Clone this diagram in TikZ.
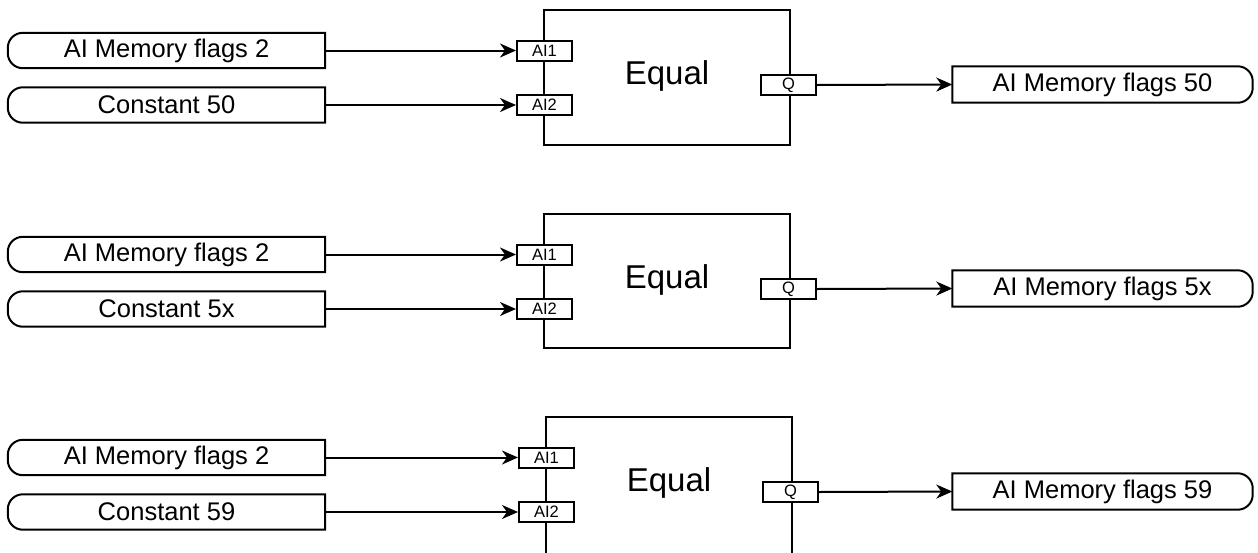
\documentclass[tikz,border=0pt]{standalone}
\usepackage{fontspec}
\setmainfont{Liberation Sans}
\usetikzlibrary{arrows.meta}
\tikzset{
  lw/.style={line width=2pt},
  iobox/.style={minimum width=317pt, minimum height=35pt, inner sep=0pt, font=\fontsize{25.5}{25.5}\selectfont},
  outbox/.style={minimum width=300pt, minimum height=36pt, inner sep=0pt, font=\fontsize{25.5}{25.5}\selectfont},
  fblock/.style={draw, lw, minimum width=246pt, inner sep=0pt},
  fname/.style={anchor=base, inner sep=0pt, font=\fontsize{33}{33}\selectfont},
  port/.style={draw, lw, fill=white, minimum width=55pt, minimum height=20pt, inner sep=0pt, font=\fontsize{16.5}{16.5}\selectfont},
  conn/.style={lw, -{Stealth[length=16pt,width=14pt,inset=5pt]}},
}
\begin{document}
\begin{tikzpicture}[x=1pt,y=-1pt]
\clip (0,0) rectangle (1258,552);
\fill[white] (0,0) rectangle (1258,552);
\foreach \k/\top/\dx/\h/\cst in {a/10/0/135/50, b/214/0/134/5x, c/417/2/150/59}{
  % input boxes
  \node[iobox] (i1\k) at (166.5, \top+40.5) {AI Memory flags 2};
  \node[iobox] (i2\k) at (166.5, \top+95) {Constant \cst};
  \foreach \n in {i1\k, i2\k}{
    \draw[lw] (\n.north east) -- ([xshift=15pt]\n.north west)
      arc[start angle=90, end angle=180, radius=15pt]
      -- ([yshift=15pt]\n.south west)
      arc[start angle=180, end angle=270, radius=15pt]
      -- (\n.south east) -- cycle;
  }
  % function block
  \node[fblock, minimum height=\h pt] (f\k) at (667+\dx, \top+\h/2) {};
  \node[fname] (e\k) at (667+\dx, \top+74) {Equal};
  \node[port] (p1\k) at (544.5+\dx, \top+40.5) {AI1};
  \node[port] (p2\k) at (544.5+\dx, \top+95) {AI2};
  \node[port] (q\k) at (788.5+\dx, \top+75) {Q};
  % output box
  \node[outbox] (o\k) at (1102.5, \top+74.5) {AI Memory flags \cst};
  \draw[lw] (o\k.north west) -- ([xshift=-15pt]o\k.north east)
      arc[start angle=90, end angle=0, radius=15pt]
      -- ([yshift=15pt]o\k.south east)
      arc[start angle=0, end angle=-90, radius=15pt]
      -- (o\k.south west) -- cycle;
  % connectors
  \draw[conn] (i1\k.east) -- (p1\k.west);
  \draw[conn] (i2\k.east) -- (p2\k.west);
  \draw[conn] (q\k.east) -- (o\k.west);
}
\end{tikzpicture}
\end{document}
